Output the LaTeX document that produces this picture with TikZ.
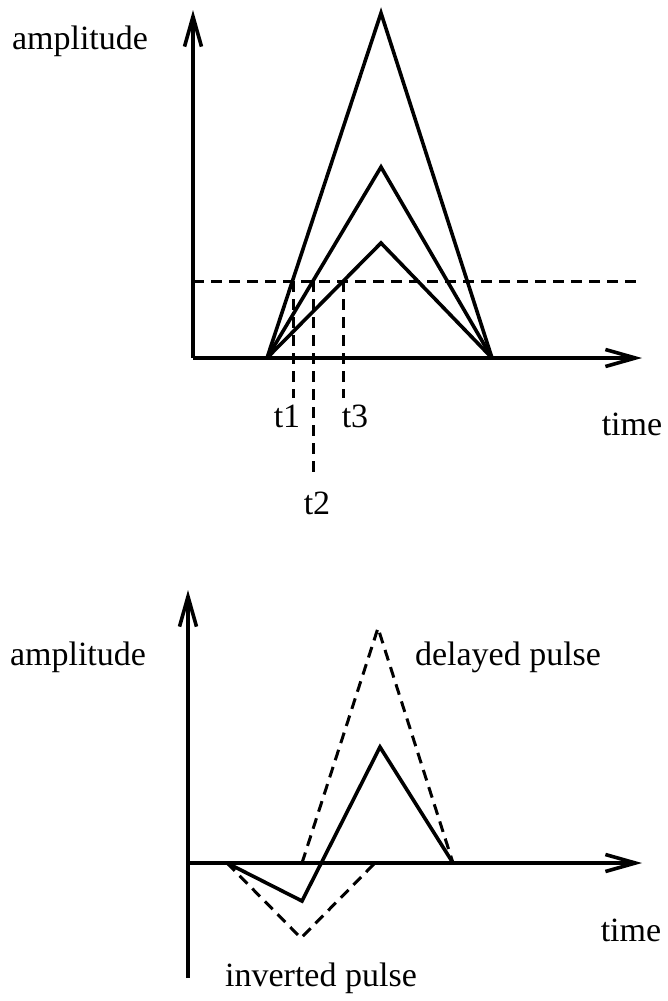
\documentclass[tikz,border=0pt]{standalone}
\usepackage{fontspec}
\setmainfont{Liberation Serif}
\usetikzlibrary{arrows.meta}

\begin{document}
\begin{tikzpicture}[x=0.5pt,y=-0.5pt,>={Straight Barb[length=15pt,width=8.5pt]},
 every node/.style={font=\fontsize{17}{20}\selectfont,inner sep=0pt},
 axis/.style={line width=1.8pt,->},
 pulse/.style={line width=1.8pt},
 guide/.style={line width=1.5pt,dash pattern=on 5.5pt off 3.5pt}]
\useasboundingbox (0,0) rectangle (668,1001);
% upper plot: three pulses and a threshold
\coordinate (o1) at (193,358);
\coordinate (ytop1) at (193,10);
\coordinate (xend1) at (642,358);
\coordinate (s1) at (267,358);
\coordinate (e1) at (492,358);
\coordinate (pa) at (381,13);
\coordinate (pb) at (381,167);
\coordinate (pc) at (381,243);
\coordinate (th0) at (193,281);
\coordinate (th1) at (642,281);
\coordinate (c1) at (293,281);
\coordinate (c2) at (313,281);
\coordinate (c3) at (343,281);
\coordinate (d1) at (293,398);
\coordinate (d2) at (313,476);
\coordinate (d3) at (343,398);
\node (amp1) at (80,41) {amplitude};
\node (time1) at (632,424) {time};
\node (t1) at (287,416) {t1};
\node (t2) at (317,503) {t2};
\node (t3) at (355,416) {t3};
\draw[axis] (o1)--(ytop1);
\draw[axis] (o1)--(xend1);
\draw[pulse] (s1)--(pa)--(e1);
\draw[pulse] (s1)--(pb)--(e1);
\draw[pulse] (s1)--(pc)--(e1);
\draw[guide] (th0)--(th1);
\draw[guide] (c1)--(d1);
\draw[guide] (c2)--(d2);
\draw[guide] (c3)--(d3);
% lower plot: inverted and delayed pulse
\coordinate (o2) at (188,863);
\coordinate (ybot2) at (188,978);
\coordinate (ytop2) at (188,590);
\coordinate (xend2) at (642,863);
\coordinate (s2) at (227,863);
\coordinate (lo) at (302,901);
\coordinate (hi) at (380,747);
\coordinate (e2) at (453,863);
\coordinate (ilo) at (301,938);
\coordinate (ie) at (375,863);
\coordinate (ds) at (302,863);
\coordinate (dhi) at (378,628);
\node (amp2) at (78,657) {amplitude};
\node (time2) at (631,930) {time};
\node (delayed) at (508,657) {delayed pulse};
\node (inverted) at (321,978) {inverted pulse};
\draw[line width=1.8pt] (ybot2)--(o2);
\draw[axis] (o2)--(ytop2);
\draw[axis] (o2)--(xend2);
\draw[pulse] (s2)--(lo)--(hi)--(e2);
\draw[guide] (s2)--(ilo)--(ie);
\draw[guide] (ds)--(dhi)--(e2);
\end{tikzpicture}
\end{document}
